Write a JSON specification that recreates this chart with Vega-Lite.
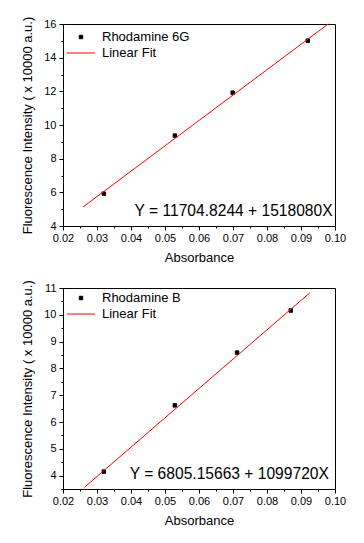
{
  "$schema": "https://vega.github.io/schema/vega-lite/v6.json",
  "background": "white",
  "padding": {"left": 21, "top": 15, "right": 5, "bottom": 5},
  "bounds": "flush",
  "spacing": 62,
  "config": {
    "font": "Liberation Sans",
    "view": {"stroke": "black", "strokeWidth": 1},
    "axis": {
      "grid": false,
      "domainColor": "black",
      "tickColor": "black",
      "labelColor": "black",
      "titleColor": "black",
      "labelFont": "Liberation Sans",
      "titleFont": "Liberation Sans",
      "labelFontSize": 11,
      "titleFontSize": 13,
      "titleFontWeight": "normal",
      "labelOverlap": false,
      "labelFlush": false
    },
    "legend": {
      "labelFont": "Liberation Sans",
      "labelFontSize": 13,
      "labelColor": "black"
    }
  },
  "resolve": {
    "scale": {"x": "independent", "y": "independent", "fill": "independent", "stroke": "independent", "shape": "independent", "size": "independent"}
  },
  "vconcat": [
    {
      "width": 272,
      "height": 202,
      "layer": [
        {
          "data": {"values": [
            {"x": 0.032, "y": 5.92, "series": "Rhodamine 6G"},
            {"x": 0.0529, "y": 9.37, "series": "Rhodamine 6G"},
            {"x": 0.0699, "y": 11.92, "series": "Rhodamine 6G"},
            {"x": 0.092, "y": 15.01, "series": "Rhodamine 6G"}
          ]},
          "mark": {"type": "point", "filled": true, "strokeWidth": 1, "opacity": 1},
          "encoding": {
            "x": {"field": "x", "type": "quantitative", "title": "Absorbance",
              "scale": {"domain": [0.02, 0.1], "nice": false, "zero": false},
              "axis": {
                "values": [0.02, 0.025, 0.03, 0.035, 0.04, 0.045, 0.05, 0.055, 0.06, 0.065, 0.07, 0.075, 0.08, 0.085, 0.09, 0.095, 0.1],
                "tickCount": 100,
                "format": ".2f",
                "labelExpr": "abs(datum.value*100 - round(datum.value*100)) < 0.001 ? datum.label : ''",
                "tickSize": {"condition": {"test": "abs(datum.value*100 - round(datum.value*100)) < 0.001", "value": 4}, "value": 2},
                "labelOverlap": false,
                "labelPadding": 2,
                "titlePadding": 8
              }},
            "y": {"field": "y", "type": "quantitative", "title": "Fluorescence Intensity ( x 10000 a.u.)",
              "scale": {"domain": [4, 16], "nice": false, "zero": false},
              "axis": {
                "values": [4, 5, 6, 7, 8, 9, 10, 11, 12, 13, 14, 15, 16],
                "tickCount": 100,
                "format": ".0f",
                "labelExpr": "datum.value % 2 == 0 ? datum.label : ''",
                "tickSize": {"condition": {"test": "datum.value % 2 == 0", "value": 4}, "value": 2},
                "labelOverlap": false,
                "labelPadding": 3,
                "titlePadding": 9
              }},
            "fill": {"field": "series", "type": "nominal",
              "scale": {"domain": ["Rhodamine 6G", "Linear Fit"], "range": ["black", "red"]},
              "legend": {"orient": "none", "legendX": 3, "legendY": 6, "title": null, "clipHeight": 14, "rowPadding": 2, "labelOffset": 6, "padding": 0, "symbolStrokeWidth": 1}},
            "stroke": {"field": "series", "type": "nominal",
              "scale": {"domain": ["Rhodamine 6G", "Linear Fit"], "range": ["black", "red"]},
              "legend": {"orient": "none", "legendX": 3, "legendY": 6, "title": null, "clipHeight": 14, "rowPadding": 2, "labelOffset": 6, "padding": 0, "symbolStrokeWidth": 1}},
            "shape": {"field": "series", "type": "nominal",
              "scale": {"domain": ["Rhodamine 6G", "Linear Fit"], "range": ["square", "stroke"]},
              "legend": {"orient": "none", "legendX": 3, "legendY": 6, "title": null, "clipHeight": 14, "rowPadding": 2, "labelOffset": 6, "padding": 0, "symbolStrokeWidth": 1}},
            "size": {"field": "series", "type": "nominal",
              "scale": {"domain": ["Rhodamine 6G", "Linear Fit"], "range": [12, 800]},
              "legend": {"orient": "none", "legendX": 3, "legendY": 6, "title": null, "clipHeight": 14, "rowPadding": 2, "labelOffset": 6, "padding": 0, "symbolStrokeWidth": 1}}
          }
        },
        {
          "data": {"values": [
            {"x": 0.0259, "y": 5.13, "series": "Linear Fit"},
            {"x": 0.098, "y": 16.0, "series": "Linear Fit"}
          ]},
          "mark": {"type": "line", "strokeWidth": 1},
          "encoding": {
            "x": {"field": "x", "type": "quantitative"},
            "y": {"field": "y", "type": "quantitative"},
            "stroke": {"field": "series", "type": "nominal"}
          }
        },
        {
          "data": {"values": [{"label": "Y = 11704.8244 + 1518080X"}]},
          "mark": {"type": "text", "align": "right", "baseline": "alphabetic", "fontSize": 15.6, "font": "Liberation Sans", "color": "black"},
          "encoding": {
            "x": {"datum": 0.0993, "type": "quantitative"},
            "y": {"datum": 4.59, "type": "quantitative"},
            "text": {"field": "label", "type": "nominal"}
          }
        }
      ]
    },
    {
      "width": 272,
      "height": 201,
      "layer": [
        {
          "data": {"values": [
            {"x": 0.032, "y": 4.15, "series": "Rhodamine B"},
            {"x": 0.0529, "y": 6.62, "series": "Rhodamine B"},
            {"x": 0.0712, "y": 8.59, "series": "Rhodamine B"},
            {"x": 0.087, "y": 10.16, "series": "Rhodamine B"}
          ]},
          "mark": {"type": "point", "filled": true, "strokeWidth": 1, "opacity": 1},
          "encoding": {
            "x": {"field": "x", "type": "quantitative", "title": "Absorbance",
              "scale": {"domain": [0.02, 0.1], "nice": false, "zero": false},
              "axis": {
                "values": [0.02, 0.025, 0.03, 0.035, 0.04, 0.045, 0.05, 0.055, 0.06, 0.065, 0.07, 0.075, 0.08, 0.085, 0.09, 0.095, 0.1],
                "tickCount": 100,
                "format": ".2f",
                "labelExpr": "abs(datum.value*100 - round(datum.value*100)) < 0.001 ? datum.label : ''",
                "tickSize": {"condition": {"test": "abs(datum.value*100 - round(datum.value*100)) < 0.001", "value": 4}, "value": 2},
                "labelOverlap": false,
                "labelPadding": 2,
                "titlePadding": 8
              }},
            "y": {"field": "y", "type": "quantitative", "title": "Fluorescence Intensity ( x 10000 a.u.)",
              "scale": {"domain": [3.5, 11], "nice": false, "zero": false},
              "axis": {
                "values": [3.5, 4, 4.5, 5, 5.5, 6, 6.5, 7, 7.5, 8, 8.5, 9, 9.5, 10, 10.5, 11],
                "tickCount": 100,
                "format": ".0f",
                "labelExpr": "datum.value % 1 == 0 ? datum.label : ''",
                "tickSize": {"condition": {"test": "datum.value % 1 == 0", "value": 4}, "value": 2},
                "labelOverlap": false,
                "labelPadding": 3,
                "titlePadding": 9
              }},
            "fill": {"field": "series", "type": "nominal",
              "scale": {"domain": ["Rhodamine B", "Linear Fit"], "range": ["black", "red"]},
              "legend": {"orient": "none", "legendX": 3, "legendY": 3, "title": null, "clipHeight": 14, "rowPadding": 2, "labelOffset": 6, "padding": 0, "symbolStrokeWidth": 1}},
            "stroke": {"field": "series", "type": "nominal",
              "scale": {"domain": ["Rhodamine B", "Linear Fit"], "range": ["black", "red"]},
              "legend": {"orient": "none", "legendX": 3, "legendY": 3, "title": null, "clipHeight": 14, "rowPadding": 2, "labelOffset": 6, "padding": 0, "symbolStrokeWidth": 1}},
            "shape": {"field": "series", "type": "nominal",
              "scale": {"domain": ["Rhodamine B", "Linear Fit"], "range": ["square", "stroke"]},
              "legend": {"orient": "none", "legendX": 3, "legendY": 3, "title": null, "clipHeight": 14, "rowPadding": 2, "labelOffset": 6, "padding": 0, "symbolStrokeWidth": 1}},
            "size": {"field": "series", "type": "nominal",
              "scale": {"domain": ["Rhodamine B", "Linear Fit"], "range": [12, 800]},
              "legend": {"orient": "none", "legendX": 3, "legendY": 3, "title": null, "clipHeight": 14, "rowPadding": 2, "labelOffset": 6, "padding": 0, "symbolStrokeWidth": 1}}
          }
        },
        {
          "data": {"values": [
            {"x": 0.0263, "y": 3.56, "series": "Linear Fit"},
            {"x": 0.0926, "y": 10.82, "series": "Linear Fit"}
          ]},
          "mark": {"type": "line", "strokeWidth": 1},
          "encoding": {
            "x": {"field": "x", "type": "quantitative"},
            "y": {"field": "y", "type": "quantitative"},
            "stroke": {"field": "series", "type": "nominal"}
          }
        },
        {
          "data": {"values": [{"label": "Y = 6805.15663 + 1099720X"}]},
          "mark": {"type": "text", "align": "right", "baseline": "alphabetic", "fontSize": 15.6, "font": "Liberation Sans", "color": "black"},
          "encoding": {
            "x": {"datum": 0.0982, "type": "quantitative"},
            "y": {"datum": 3.89, "type": "quantitative"},
            "text": {"field": "label", "type": "nominal"}
          }
        }
      ]
    }
  ]
}
